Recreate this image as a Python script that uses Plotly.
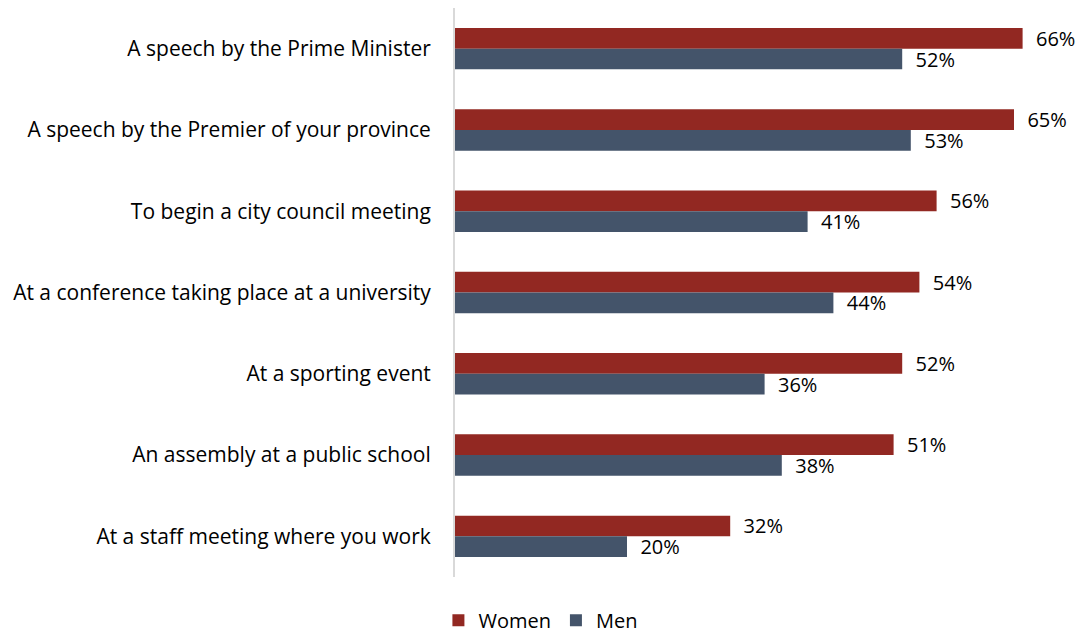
import plotly.graph_objects as go

# Settings where people would be comfortable hearing a land acknowledgement
categories = [
    "A speech by the Prime Minister",
    "A speech by the Premier of your province",
    "To begin a city council meeting",
    "At a conference taking place at a university",
    "At a sporting event",
    "An assembly at a public school",
    "At a staff meeting where you work",
]
women = [66, 65, 56, 54, 52, 51, 32]
men = [52, 53, 41, 44, 36, 38, 20]

WOMEN_COLOR = "#922822"
MEN_COLOR = "#44546A"
FONT = "Open Sans"

fig = go.Figure()
for name, vals, color in [("Women", women, WOMEN_COLOR), ("Men", men, MEN_COLOR)]:
    fig.add_trace(go.Bar(
        name=name,
        y=categories,
        x=vals,
        orientation="h",
        marker=dict(color=color, line=dict(width=0)),
        text=vals,
        texttemplate="\u00a0\u00a0%{x}%",
        textposition="outside",
        constraintext="none",
        textfont=dict(family=FONT, size=20, color="#000000"),
        cliponaxis=False,
    ))

fig.update_layout(
    width=1083,
    height=638,
    margin=dict(l=455, r=26, t=8, b=61, autoexpand=False),
    paper_bgcolor="white",
    plot_bgcolor="white",
    barmode="group",
    bargap=0.49,
    bargroupgap=0,
    font=dict(family=FONT, size=20, color="#000000"),
    showlegend=True,
    legend=dict(
        orientation="h",
        xref="container",
        x=0.499, xanchor="center",
        yref="paper",
        y=-0.076, yanchor="middle",
        font=dict(family=FONT, size=20),
        tracegroupgap=0,
    ),
    xaxis=dict(
        range=[0, 70],
        showgrid=False,
        zeroline=False,
        showticklabels=False,
        showline=False,
    ),
    yaxis=dict(
        autorange="reversed",
        showgrid=False,
        zeroline=False,
        showline=True,
        linecolor="#d9d9d9",
        linewidth=2,
        ticks="",
        ticklabelstandoff=18,
        tickfont=dict(family=FONT, size=21),
    ),
)

fig.write_html("out.html")
